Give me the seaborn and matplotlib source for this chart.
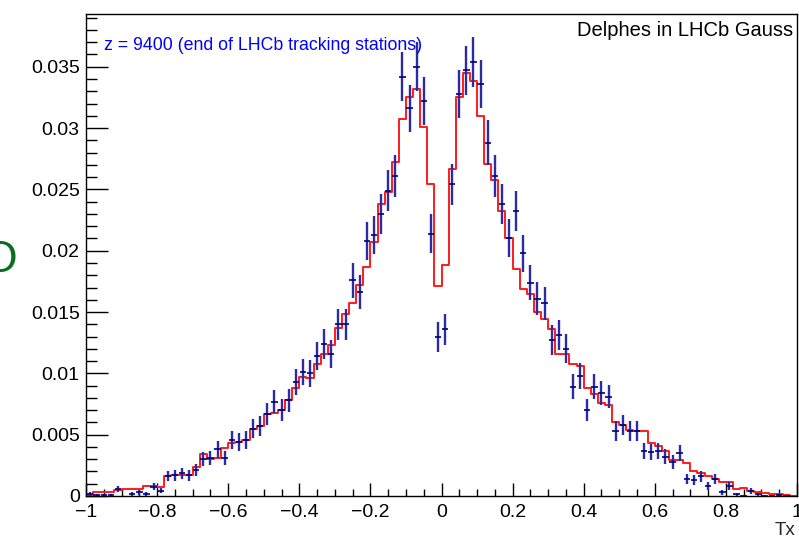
import numpy as np
import pandas as pd
import matplotlib
matplotlib.use("Agg")
import matplotlib.pyplot as plt
from matplotlib.ticker import MultipleLocator, FuncFormatter
import seaborn as sns

# bin centres of the Tx histogram (100 bins of width 0.02 between -1 and 1)
tx_centres = np.round(np.arange(-0.99, 1.0, 0.02), 2)

# red line: Delphes prediction, normalised
delphes = [
    0.0001, 0.0003, 0.0003, 0.00035, 0.0005, 0.00055, 0.00055, 0.00055, 0.00085, 0.00085,
    0.0007, 0.00166, 0.0017, 0.0017, 0.0017, 0.0024, 0.0034, 0.0030, 0.0031, 0.0039,
    0.00435, 0.0044, 0.0046, 0.0055, 0.0057, 0.0067, 0.0068, 0.0070, 0.0078, 0.0088,
    0.0097, 0.0096, 0.0108, 0.0116, 0.0123, 0.0137, 0.0148, 0.0157, 0.0172, 0.0187,
    0.0207, 0.0238, 0.0248, 0.0272, 0.0307, 0.0325, 0.0332, 0.0301, 0.0254, 0.0171,
    0.0188, 0.0267, 0.0325, 0.0345, 0.0338, 0.0310, 0.0271, 0.0258, 0.0232, 0.0210,
    0.0185, 0.0169, 0.0165, 0.0150, 0.0144, 0.0136, 0.0116, 0.0116, 0.0108, 0.0106,
    0.0088, 0.0083, 0.0076, 0.0074, 0.0060, 0.0058, 0.0054, 0.0053, 0.0053, 0.00435,
    0.0041, 0.0037, 0.0029, 0.0029, 0.0027, 0.0020, 0.00185, 0.0016, 0.00136, 0.00117,
    0.00117, 0.00054, 0.00068, 0.00043, 0.00035, 0.00022, 0.00014, 0.00014, 0.00008, 0.00003,
]

# blue crosses: Gauss reference, normalised
gauss = [
    0.00016, 0.00005, 0.00005, 0.00005, 0.00057, 0.0, 0.00016, 0.0003, 0.00016, 0.00076,
    0.00043, 0.00163, 0.0017, 0.00185, 0.0017, 0.0021, 0.0030, 0.0031, 0.0038, 0.0031,
    0.0046, 0.0044, 0.0046, 0.0055, 0.0057, 0.0067, 0.0077, 0.0070, 0.0078, 0.0093,
    0.0101, 0.0100, 0.0114, 0.0124, 0.0116, 0.0140, 0.0140, 0.0176, 0.0166, 0.0208,
    0.0213, 0.0230, 0.0249, 0.0261, 0.0342, 0.0316, 0.0350, 0.0322, 0.0214, 0.0130,
    0.0136, 0.0254, 0.0328, 0.0347, 0.0354, 0.0336, 0.0288, 0.0261, 0.0238, 0.0210,
    0.0232, 0.0198, 0.0174, 0.0161, 0.0157, 0.0127, 0.0131, 0.0120, 0.0089, 0.0098,
    0.0070, 0.0089, 0.0084, 0.0081, 0.0053, 0.0058, 0.0053, 0.0053, 0.0037, 0.0036,
    0.0037, 0.0032, 0.0028, 0.0035, 0.0014, 0.0013, 0.0016, 0.0008, 0.0014, 0.0003,
    0.0008, 0.00014, 0.00003, 0.0004, 0.00014, 0.00003, 0.00003, 0.00008, 0.00003, 0.0,
]

# events behind the reference histogram (sets the Poisson error size)
n_events = 8700

x_ticks = [-1, -0.8, -0.6, -0.4, -0.2, 0, 0.2, 0.4, 0.6, 0.8, 1]
y_ticks = [0, 0.005, 0.01, 0.015, 0.02, 0.025, 0.03, 0.035]

df = pd.DataFrame({"tx": tx_centres, "delphes": delphes, "gauss": gauss})
df["err"] = np.sqrt(df["gauss"] / n_events)
pts = df[df["gauss"] > 0]

sns.set_theme(style="ticks")
plt.rcParams["font.family"] = ["Liberation Sans", "DejaVu Sans"]

fig = plt.figure(figsize=(7.99, 5.38), dpi=100)
ax = fig.add_axes([86 / 799, 1 - 496 / 538, 711 / 799, 482 / 538])

sns.histplot(data=df, x="tx", weights="delphes", bins=100, binrange=(-1, 1),
             element="step", fill=False, color="#ff1a1a", linewidth=1.4, ax=ax)

# vertical error bars, then the horizontal bin markers
ax.errorbar(pts["tx"], pts["gauss"], yerr=pts["err"], fmt="none",
            ecolor="#2b2ba6", elinewidth=1.7, capsize=0, zorder=3)
ax.errorbar(pts["tx"], pts["gauss"], xerr=0.009, fmt="none",
            ecolor="#000080", elinewidth=1.2, capsize=0, zorder=4)

ax.set_xlim(-1, 1)
ax.set_ylim(0, 0.0393)
ax.set_xlabel("")
ax.set_ylabel("")

ax.set_xticks(x_ticks)
ax.set_yticks(y_ticks)
ax.xaxis.set_minor_locator(MultipleLocator(0.05))
ax.yaxis.set_minor_locator(MultipleLocator(0.001))
ax.xaxis.set_major_formatter(FuncFormatter(lambda v, p: f"{v:g}".replace("-", "\u2212") if abs(v) > 1e-9 else "0"))
ax.yaxis.set_major_formatter(FuncFormatter(lambda v, p: f"{v:g}" if v > 1e-9 else "0"))

ax.tick_params(axis="both", which="both", direction="in", colors="black",
               top=False, right=False, labelsize=14)
ax.tick_params(axis="y", which="major", length=15.5, width=1, pad=4.5)
ax.tick_params(axis="y", which="minor", length=7.8, width=1)
ax.tick_params(axis="x", which="major", length=9.7, width=1, pad=6)
ax.tick_params(axis="x", which="minor", length=5, width=1)
for s in ax.spines.values():
    s.set_visible(True)
    s.set_color("black")
    s.set_linewidth(1)

ax.text((104 - 86) / 711, 1 - (45 - 14) / 482, "z = 9400 (end of LHCb tracking stations)",
        transform=ax.transAxes, color="#0000ff", fontsize=12.8, ha="left", va="center")
ax.text((793 - 86) / 711, 1 - (30 - 14) / 482, "Delphes in LHCb Gauss",
        transform=ax.transAxes, color="black", fontsize=14.5, ha="right", va="center")

fig.text(795 / 799, 1 - 522 / 538, "Tx", fontsize=13.5, ha="right", va="top")
fig.text(0.5 / 799, 1 - 272 / 538, "O", color="#0b6e1e", fontsize=32,
         ha="center", va="baseline")

fig.savefig("out.png", dpi=100)
